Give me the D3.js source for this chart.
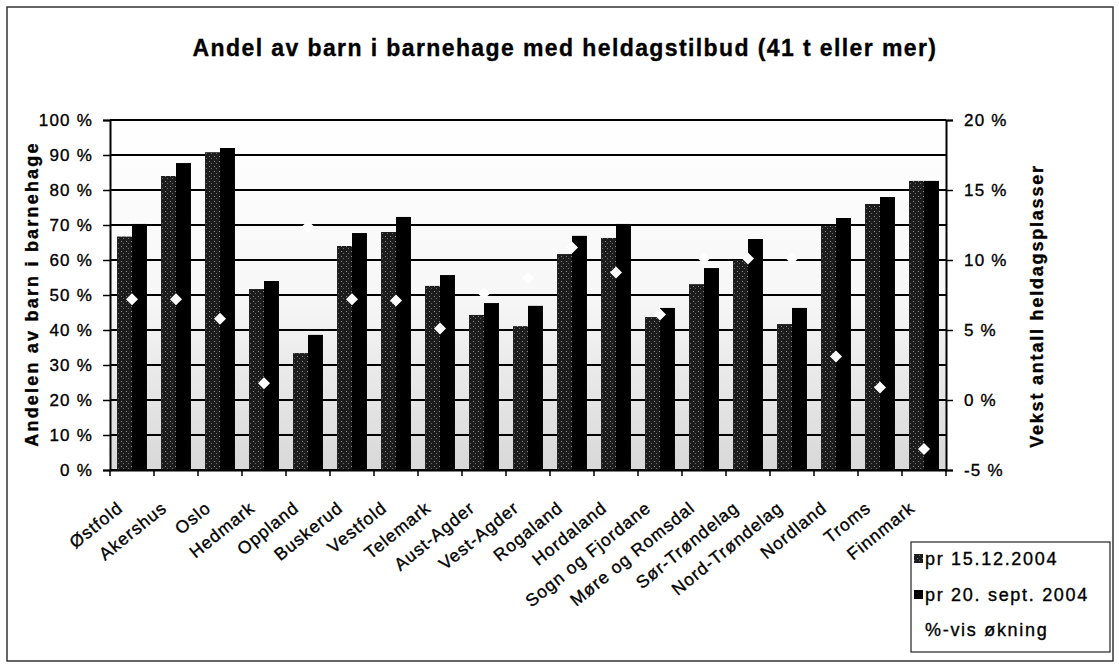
<!DOCTYPE html>
<html>
<meta charset="utf-8">
<script src="https://cdn.jsdelivr.net/npm/d3@7/dist/d3.min.js"></script>
<style>
body { margin: 0; background: #fff; }
svg text { font-family: "Liberation Sans", Arial, sans-serif; fill: #000; stroke: #000; stroke-width: 0.35px; }
.tick line { stroke: #000; stroke-width: 1.5px; }
</style>
<body>
<svg id="chart" width="1119" height="665"></svg>
</body>
<script>
// fylker
const counties = ["Østfold", "Akershus", "Oslo", "Hedmark", "Oppland", "Buskerud", "Vestfold",
	"Telemark", "Aust-Agder", "Vest-Agder", "Rogaland", "Hordaland", "Sogn og Fjordane",
	"Møre og Romsdal", "Sør-Trøndelag", "Nord-Trøndelag", "Nordland", "Troms", "Finnmark"];

// andel i barnehage (%)
const dec2004 = [66.7, 84.0, 90.8, 51.7, 33.4, 64.0, 68.0, 52.6, 44.3, 41.1, 61.7, 66.3, 43.7, 53.1, 60.0, 41.7, 69.7, 76.0, 82.6];
const sep2004 = [70.3, 87.7, 92.0, 54.0, 38.6, 67.7, 72.3, 55.7, 47.7, 46.9, 66.9, 70.3, 46.3, 57.7, 66.0, 46.3, 72.0, 78.0, 82.6];

// vekst antall heldagsplasser (%), hoyre akse
const growth = [7.2, 7.2, 5.8, 1.2, 12.4, 7.2, 7.1, 5.1, 7.6, 8.7, 10.9, 9.1, 6.1, 10.1, 10.1, 10.1, 3.1, 0.9, -3.5];

const seriesNames = ["pr 15.12.2004", "pr 20. sept. 2004", "%-vis økning"];
const leftTicks = [0, 10, 20, 30, 40, 50, 60, 70, 80, 90, 100];
const rightTicks = [-5, 0, 5, 10, 15, 20];

const svg = d3.select("#chart");
const plot = {left: 110, right: 946, top: 120, bottom: 470};

const x = d3.scaleBand().domain(counties).range([plot.left, plot.right]);
const xInner = d3.scaleBand().domain([0, 1]).range([0, x.bandwidth()]).paddingOuter(0.47);
const yL = d3.scaleLinear().domain([0, 100]).range([plot.bottom, plot.top]);
const yR = d3.scaleLinear().domain([-5, 20]).range([plot.bottom, plot.top]);

const defs = svg.append("defs");
const bg = defs.append("linearGradient").attr("id", "bgGrad")
	.attr("x1", 0).attr("y1", 0).attr("x2", 0).attr("y2", 1);
bg.append("stop").attr("offset", "0%").attr("stop-color", "#ffffff");
bg.append("stop").attr("offset", "50%").attr("stop-color", "#f7f7f7");
bg.append("stop").attr("offset", "100%").attr("stop-color", "#d8d8d8");

// halftone grey for first series
const pat = defs.append("pattern").attr("id", "greyPat")
	.attr("width", 5).attr("height", 5).attr("patternUnits", "userSpaceOnUse");
pat.append("rect").attr("width", 5).attr("height", 5).attr("fill", "#1c1c1c");
pat.append("rect").attr("x", 1).attr("y", 1).attr("width", 1).attr("height", 1).attr("fill", "#8a8a8a");
pat.append("rect").attr("x", 3).attr("y", 3).attr("width", 1).attr("height", 1).attr("fill", "#6a6a6a");

// outer frame
svg.append("rect").attr("x", 7).attr("y", 7).attr("width", 1106).attr("height", 654)
	.attr("fill", "none").attr("stroke", "#333").attr("stroke-width", 1.5);

// title
svg.append("text")
	.attr("x", 565).attr("y", 56)
	.attr("text-anchor", "middle")
	.style("font-size", "23px").style("font-weight", "bold").style("letter-spacing", "1.4px")
	.text("Andel av barn i barnehage med heldagstilbud (41 t eller mer)");

// plot area
svg.append("rect")
	.attr("x", plot.left).attr("y", plot.top)
	.attr("width", plot.right - plot.left).attr("height", plot.bottom - plot.top)
	.attr("fill", "url(#bgGrad)");

// gridlines
svg.append("g")
	.selectAll("line")
	.data(leftTicks)
	.join("line")
	.attr("x1", plot.left).attr("x2", plot.right)
	.attr("y1", d => yL(d)).attr("y2", d => yL(d))
	.attr("stroke", "#000").attr("stroke-width", 2);

// bars
const groups = svg.append("g")
	.selectAll("g")
	.data(counties)
	.join("g")
	.attr("transform", d => "translate(" + x(d) + ",0)");

groups.append("rect")
	.attr("x", xInner(0))
	.attr("width", xInner.bandwidth())
	.attr("y", (d, i) => yL(dec2004[i]))
	.attr("height", (d, i) => yL(0) - yL(dec2004[i]))
	.attr("fill", "url(#greyPat)");

groups.append("rect")
	.attr("x", xInner(1))
	.attr("width", xInner.bandwidth())
	.attr("y", (d, i) => yL(sep2004[i]))
	.attr("height", (d, i) => yL(0) - yL(sep2004[i]))
	.attr("fill", "#000");

// diamonds
const dsize = 6;
svg.append("g")
	.selectAll("path")
	.data(counties)
	.join("path")
	.attr("transform", (d, i) => "translate(" + (x(d) + x.bandwidth() / 2) + "," + yR(growth[i]) + ")")
	.attr("d", "M0,-" + dsize + "L" + dsize + ",0L0," + dsize + "L-" + dsize + ",0Z")
	.attr("fill", "#fff");

// axes
const axL = svg.append("g")
	.attr("transform", "translate(" + plot.left + ",0)")
	.call(d3.axisLeft(yL).tickValues(leftTicks).tickSize(7).tickPadding(10).tickFormat(d => d + " %"));
axL.select(".domain").attr("stroke", "#000").attr("stroke-width", 2);
axL.selectAll("text").style("font-size", "17px").style("letter-spacing", "1.2px");

const axR = svg.append("g")
	.attr("transform", "translate(" + plot.right + ",0)")
	.call(d3.axisRight(yR).tickValues(rightTicks).tickSize(7).tickPadding(11).tickFormat(d => d + " %"));
axR.select(".domain").attr("stroke", "#000").attr("stroke-width", 2);
axR.selectAll("text").style("font-size", "17px").style("letter-spacing", "1.2px");

const axB = svg.append("g")
	.attr("transform", "translate(0," + plot.bottom + ")")
	.call(d3.axisBottom(x).tickSize(0).tickFormat(""));
axB.select(".domain").attr("stroke", "#000").attr("stroke-width", 2);
// ticks between categories
axB.append("g")
	.selectAll("line")
	.data(counties.concat(["_end"]))
	.join("line")
	.attr("x1", (d, i) => plot.left + i * x.step())
	.attr("x2", (d, i) => plot.left + i * x.step())
	.attr("y1", 0).attr("y2", 6)
	.attr("stroke", "#000").attr("stroke-width", 1.5);

// category labels
svg.append("g")
	.selectAll("text")
	.data(counties)
	.join("text")
	.attr("text-anchor", "end")
	.attr("transform", d => "translate(" + (x(d) + x.bandwidth() / 2 - 8) + "," + (plot.bottom + 40) + ") rotate(-39)")
	.style("font-size", "17.5px").style("letter-spacing", "1px")
	.text(d => d);

// axis titles
svg.append("text")
	.attr("transform", "translate(38,294) rotate(-90)")
	.attr("text-anchor", "middle")
	.style("font-size", "18px").style("font-weight", "bold").style("letter-spacing", "2.2px")
	.text("Andelen av barn i barnehage");

svg.append("text")
	.attr("transform", "translate(1043,306) rotate(-90)")
	.attr("text-anchor", "middle")
	.style("font-size", "18px").style("font-weight", "bold").style("letter-spacing", "1.8px")
	.text("Vekst antall heldagsplasser");

// legend
const lg = svg.append("g").attr("transform", "translate(911,542)");
lg.append("rect").attr("width", 199).attr("height", 110)
	.attr("fill", "#fff").attr("stroke", "#222").attr("stroke-width", 1.2);
const rowY = [17, 53, 88];
lg.selectAll("text")
	.data(seriesNames)
	.join("text")
	.attr("x", 14).attr("y", (d, i) => rowY[i] + 6)
	.style("font-size", "18px").style("letter-spacing", "1.7px")
	.text(d => d);
lg.append("rect").attr("x", 3).attr("y", rowY[0] - 5).attr("width", 9).attr("height", 9).attr("fill", "url(#greyPat)");
lg.append("rect").attr("x", 3).attr("y", rowY[1] - 5).attr("width", 9).attr("height", 9).attr("fill", "#000");
</script>
</html>
